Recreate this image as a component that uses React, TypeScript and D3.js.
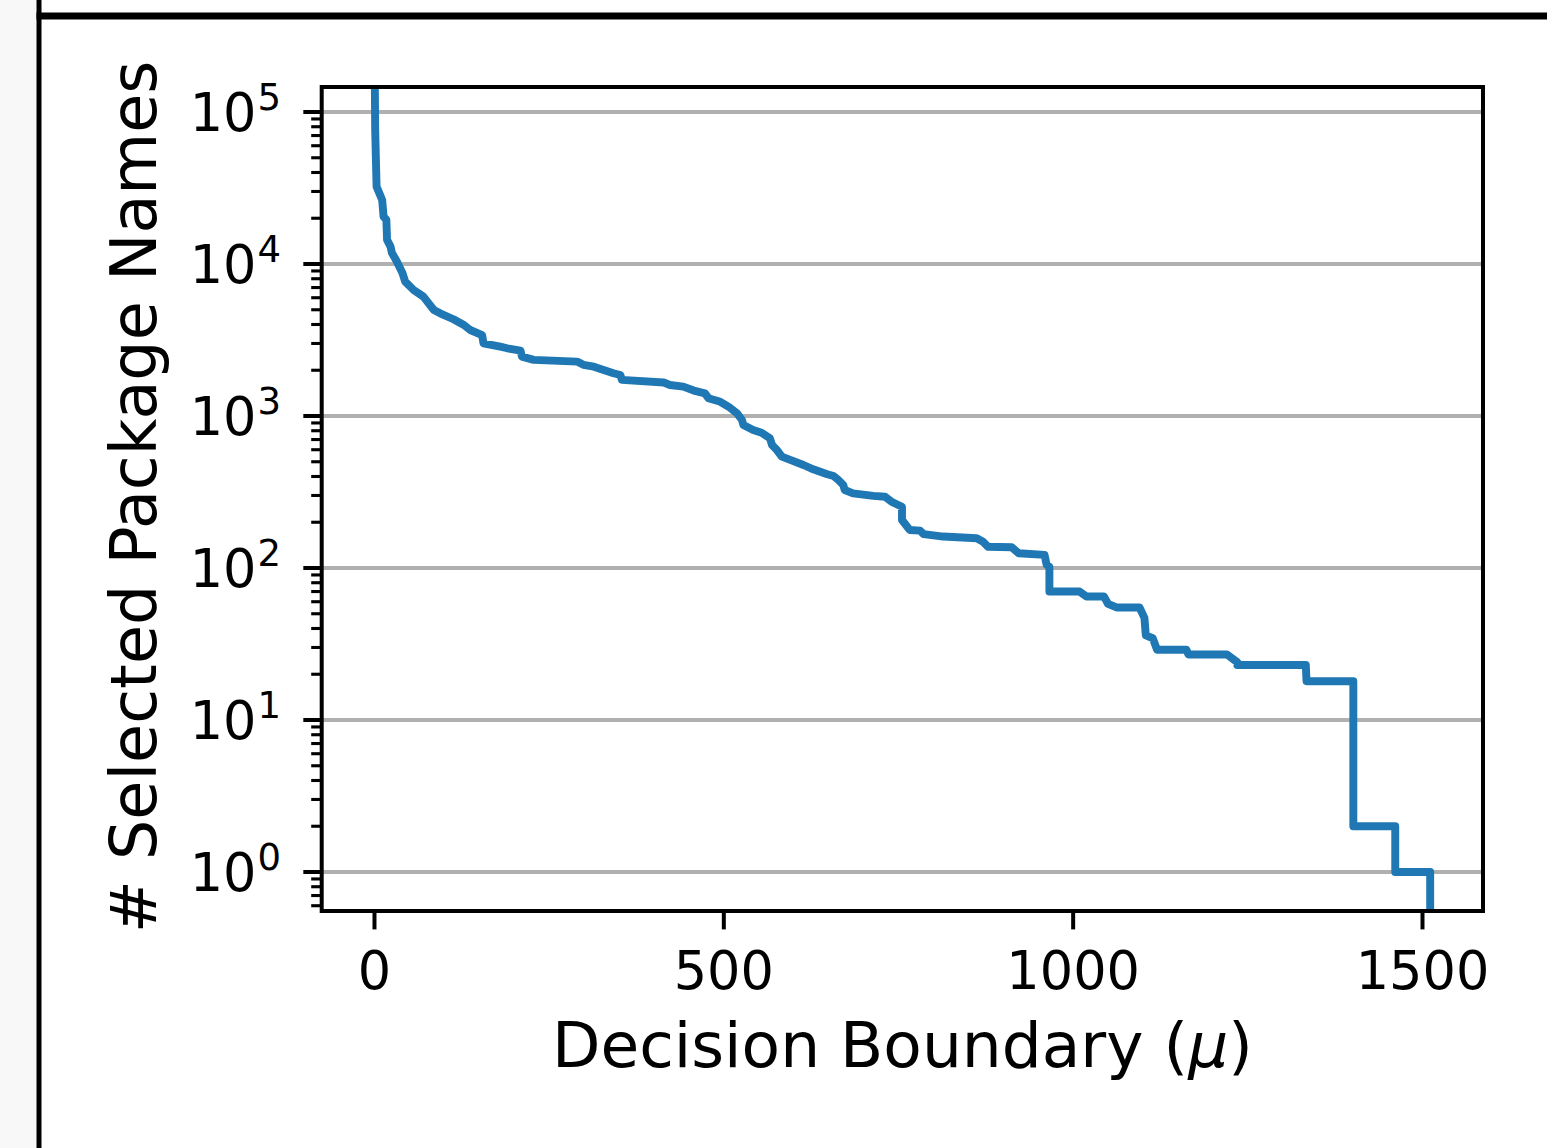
import * as d3 from 'd3';

// Decision boundary (mu) vs number of selected package names
const boundary = [
  0, 1, 3, 11, 13, 17, 18, 23, 25, 32,
  40, 44, 56, 70, 85, 94, 113, 128, 137, 154,
  156, 180, 190, 209, 211, 228, 290, 299, 314, 342,
  352, 354, 414, 423, 442, 457, 473, 478, 495, 507,
  519, 526, 528, 542, 554, 566, 569, 576, 583, 595,
  614, 628, 647, 657, 664, 671, 673, 685, 714, 731,
  740, 755, 755, 766, 781, 786, 814, 862, 871, 878,
  912, 922, 959, 962, 966, 966, 1009, 1019, 1044, 1050,
  1062, 1095, 1102, 1104, 1114, 1120, 1162, 1165, 1220, 1235,
  1235, 1333, 1334, 1401, 1401, 1461, 1461, 1511, 1511,
];
const selected = [
  300000, 76000, 32300, 26400, 20500, 19500, 14400, 13000, 11800, 10400,
  8730, 7650, 6750, 6100, 4980, 4740, 4330, 3970, 3680, 3410,
  3010, 2860, 2790, 2690, 2460, 2340, 2280, 2170, 2110, 1910,
  1860, 1730, 1660, 1600, 1560, 1470, 1410, 1310, 1240, 1150,
  1040, 941, 873, 809, 777, 713, 645, 597, 540, 514,
  476, 446, 415, 403, 379, 352, 326, 310, 298, 294,
  273, 253, 207, 178, 176, 167, 161, 157, 149, 138,
  137, 125, 122, 105, 102, 70, 70, 65, 65, 58,
  55, 55, 47, 36, 34.5, 29, 29, 27, 27, 24,
  23, 23, 18, 18, 2, 2, 1, 1, 0.01,
];

const xTicks = [0, 500, 1000, 1500];
const yExponents = [0, 1, 2, 3, 4, 5];

const W = 1547;
const H = 1148;
const FONT = '"DejaVu Sans", sans-serif';

const plot = { left: 321.7, right: 1483, top: 87, bottom: 911 };

export default function App() {
  const x = d3.scaleLinear().domain([-75.55, 1586.6]).range([plot.left, plot.right]);
  const y = d3.scaleLog()
    .domain([Math.pow(10, -0.2566), Math.pow(10, 5.1645)])
    .range([plot.bottom, plot.top]);

  const pts: [number, number][] = boundary.map((b, i) => [b, selected[i]]);
  const line = d3.line<[number, number]>()
    .x(d => x(d[0]))
    .y(d => Math.min(y(Math.max(d[1], 1e-3)), 2000));

  // minor ticks on the log axis
  const [yLo, yHi] = y.domain();
  const minor: number[] = [];
  for (let e = -1; e <= 5; e++) {
    for (let m = 2; m <= 9; m++) {
      const v = m * Math.pow(10, e);
      if (v >= yLo && v <= yHi) minor.push(v);
    }
  }

  return (
    <svg width={W} height={H} style={{ position: 'absolute', left: 0, top: 0 }}>
      <rect x={0} y={0} width={W} height={H} fill="#fff" />
      <rect x={0} y={0} width={36.5} height={H} fill="#f8f8f8" />
      <rect x={36.5} y={0} width={5} height={H} fill="#000" />
      <rect x={36.5} y={12.5} width={W - 36.5} height={7} fill="#000" />

      <defs>
        <clipPath id="plotClip">
          <rect x={plot.left} y={plot.top} width={plot.right - plot.left} height={plot.bottom - plot.top} />
        </clipPath>
      </defs>

      {/* grid */}
      {yExponents.map(e => (
        <line key={'g' + e} x1={plot.left} x2={plot.right} y1={y(Math.pow(10, e))} y2={y(Math.pow(10, e))}
          stroke="#b0b0b0" strokeWidth={4} />
      ))}

      <path d={line(pts) || ''} fill="none" stroke="#1f77b4" strokeWidth={7.9}
        strokeLinejoin="round" strokeLinecap="square" clipPath="url(#plotClip)" />

      {/* spines */}
      <rect x={plot.left} y={plot.top} width={plot.right - plot.left} height={plot.bottom - plot.top}
        fill="none" stroke="#000" strokeWidth={4} />

      {/* x ticks */}
      {xTicks.map(t => (
        <g key={'x' + t}>
          <line x1={x(t)} x2={x(t)} y1={plot.bottom} y2={plot.bottom + 18.4} stroke="#000" strokeWidth={4} />
          <text x={x(t)} y={988.5} textAnchor="middle" fontFamily={FONT} fontSize={52.5} fill="#000">{t}</text>
        </g>
      ))}

      {/* y ticks */}
      {yExponents.map(e => (
        <g key={'y' + e}>
          <line x1={plot.left - 18.4} x2={plot.left} y1={y(Math.pow(10, e))} y2={y(Math.pow(10, e))}
            stroke="#000" strokeWidth={4} />
          <text x={281} y={y(Math.pow(10, e)) + 18.7} textAnchor="end" fontFamily={FONT} fontSize={52.5} fill="#000">
            10<tspan dx={1} dy={-20.7} fontSize={37}>{e}</tspan>
          </text>
        </g>
      ))}
      {minor.map((v, i) => (
        <line key={'m' + i} x1={plot.left - 10.5} x2={plot.left} y1={y(v)} y2={y(v)} stroke="#000" strokeWidth={3.1} />
      ))}

      {/* axis labels */}
      <text x={(plot.left + plot.right) / 2} y={1067} textAnchor="middle" fontFamily={FONT} fontSize={63} fill="#000">
        Decision Boundary (<tspan fontStyle="italic">μ</tspan>)
      </text>
      <text transform={`translate(155.5, ${(plot.top + plot.bottom) / 2 - 2}) rotate(-90)`} textAnchor="middle"
        fontFamily={FONT} fontSize={63.5} fill="#000">
        # Selected Package Names
      </text>
    </svg>
  );
}
